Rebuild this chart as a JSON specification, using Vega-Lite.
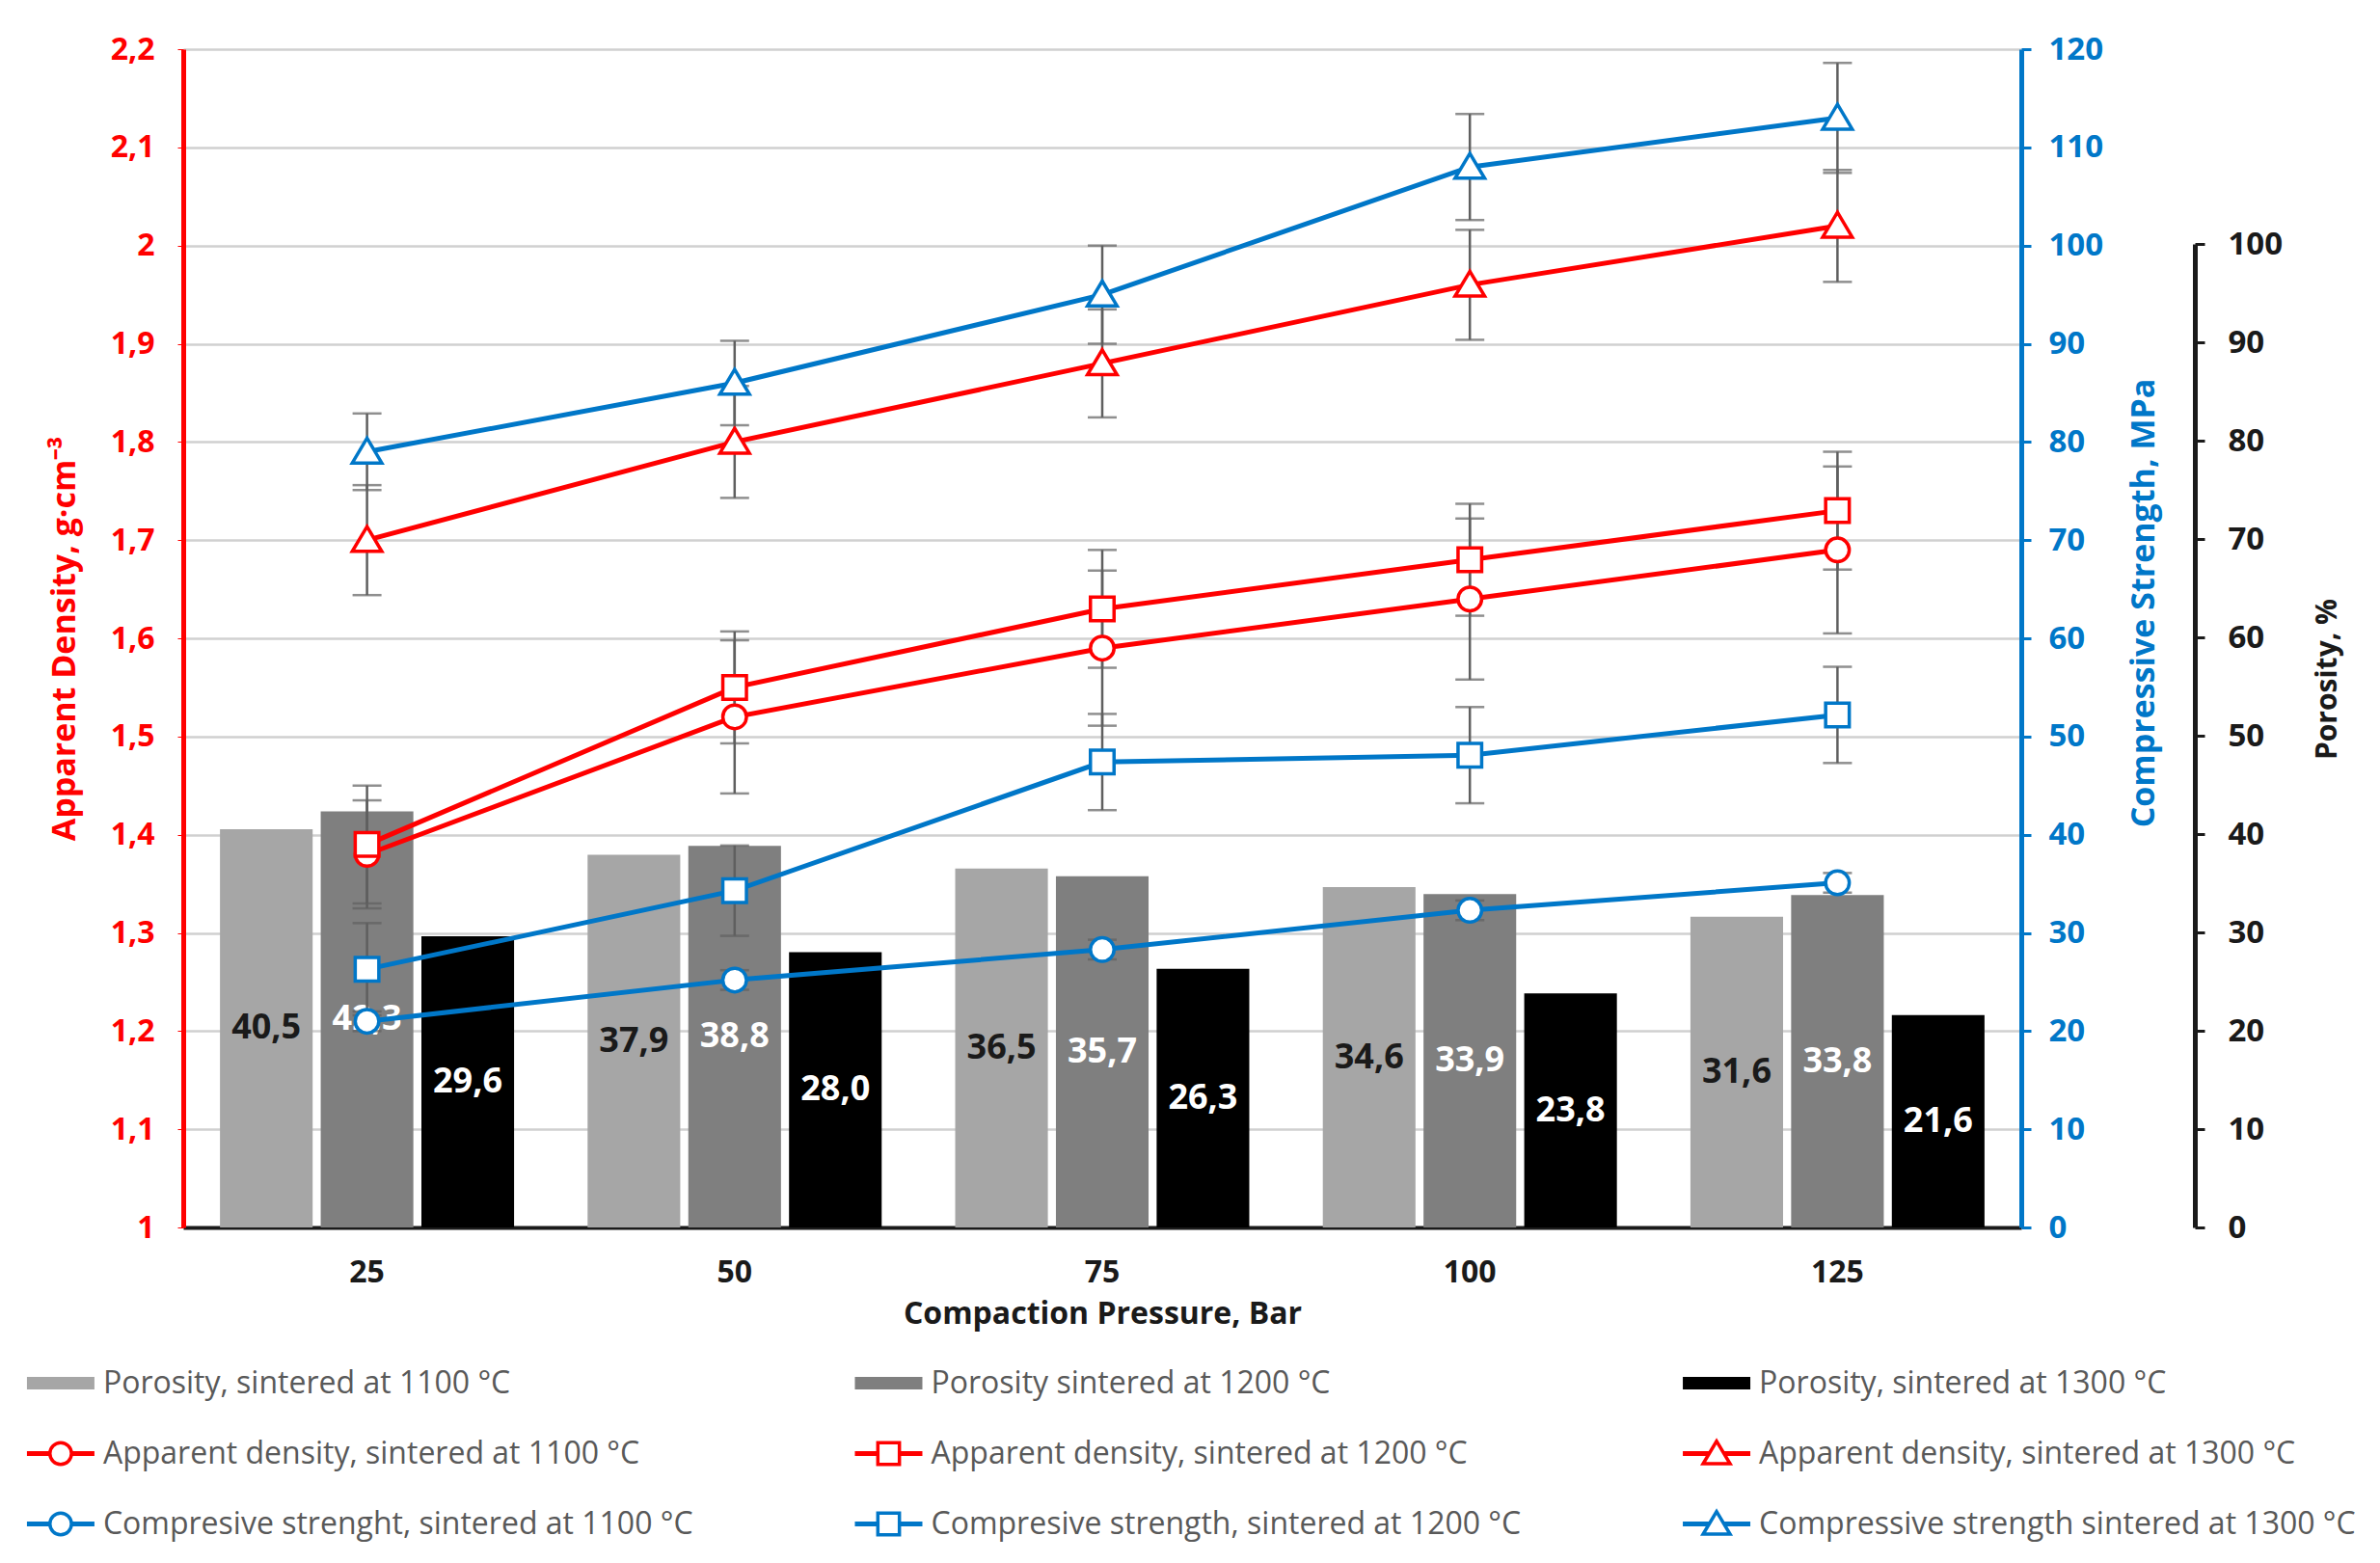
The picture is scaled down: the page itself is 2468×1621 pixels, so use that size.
{
  "$schema": "https://vega.github.io/schema/vega-lite/v6.json",
  "background": "white",
  "padding": {"left": 1, "top": 35, "right": 0, "bottom": 0},
  "spacing": 20,
  "config": {
    "view": {"stroke": null},
    "font": "Open Sans",
    "locale": {"number": {"decimal": ",", "thousands": " ", "grouping": [3], "currency": ["", ""]}}
  },
  "datasets": {
    "measurements": [
      {"pressure": 25, "temp": 1100, "porosity": 40.5, "density": 1.38, "densityErr": 0.055, "strength": 21.0, "strengthErr": 1.0},
      {"pressure": 25, "temp": 1200, "porosity": 42.3, "density": 1.39, "densityErr": 0.06, "strength": 26.3, "strengthErr": 4.7},
      {"pressure": 25, "temp": 1300, "porosity": 29.6, "density": 1.70, "densityErr": 0.056, "strength": 79.0, "strengthErr": 3.9},
      {"pressure": 50, "temp": 1100, "porosity": 37.9, "density": 1.52, "densityErr": 0.078, "strength": 25.2, "strengthErr": 1.0},
      {"pressure": 50, "temp": 1200, "porosity": 38.8, "density": 1.55, "densityErr": 0.057, "strength": 34.3, "strengthErr": 4.6},
      {"pressure": 50, "temp": 1300, "porosity": 28.0, "density": 1.80, "densityErr": 0.057, "strength": 86.0, "strengthErr": 4.3},
      {"pressure": 75, "temp": 1100, "porosity": 36.5, "density": 1.59, "densityErr": 0.079, "strength": 28.3, "strengthErr": 1.0},
      {"pressure": 75, "temp": 1200, "porosity": 35.7, "density": 1.63, "densityErr": 0.06, "strength": 47.4, "strengthErr": 4.9},
      {"pressure": 75, "temp": 1300, "porosity": 26.3, "density": 1.88, "densityErr": 0.055, "strength": 95.0, "strengthErr": 5.0},
      {"pressure": 100, "temp": 1100, "porosity": 34.6, "density": 1.64, "densityErr": 0.082, "strength": 32.3, "strengthErr": 1.0},
      {"pressure": 100, "temp": 1200, "porosity": 33.9, "density": 1.68, "densityErr": 0.057, "strength": 48.1, "strengthErr": 4.9},
      {"pressure": 100, "temp": 1300, "porosity": 23.8, "density": 1.96, "densityErr": 0.056, "strength": 108.0, "strengthErr": 5.4},
      {"pressure": 125, "temp": 1100, "porosity": 31.6, "density": 1.69, "densityErr": 0.085, "strength": 35.1, "strengthErr": 1.0},
      {"pressure": 125, "temp": 1200, "porosity": 33.8, "density": 1.73, "densityErr": 0.06, "strength": 52.2, "strengthErr": 4.9},
      {"pressure": 125, "temp": 1300, "porosity": 21.6, "density": 2.02, "densityErr": 0.057, "strength": 113.0, "strengthErr": 5.6}
    ],
    "legend": [
      {"measure": "Porosity", "temp": 1100, "label": "Porosity, sintered at 1100 °C"},
      {"measure": "Porosity", "temp": 1200, "label": "Porosity sintered at 1200 °C"},
      {"measure": "Porosity", "temp": 1300, "label": "Porosity, sintered at 1300 °C"},
      {"measure": "Apparent density", "temp": 1100, "label": "Apparent density, sintered at 1100 °C"},
      {"measure": "Apparent density", "temp": 1200, "label": "Apparent density, sintered at 1200 °C"},
      {"measure": "Apparent density", "temp": 1300, "label": "Apparent density, sintered at 1300 °C"},
      {"measure": "Compressive strength", "temp": 1100, "label": "Compresive strenght, sintered at 1100 °C"},
      {"measure": "Compressive strength", "temp": 1200, "label": "Compresive strength, sintered at 1200 °C"},
      {"measure": "Compressive strength", "temp": 1300, "label": "Compressive strength sintered at 1300 °C"}
    ]
  },
  "vconcat": [
    {
      "width": 1906,
      "height": 1222,
      "data": {"name": "measurements"},
      "encoding": {
        "x": {
          "field": "pressure",
          "type": "ordinal",
          "title": "Compaction Pressure, Bar",
          "scale": {"paddingInner": 0.2, "paddingOuter": 0.1},
          "axis": {
            "labelAngle": 0,
            "labelFontSize": 32,
            "labelFontWeight": "bold",
            "labelColor": "#1a1a1a",
            "labelPadding": 31,
            "ticks": false,
            "domainColor": "#1a1a1a",
            "domainWidth": 4,
            "titleFontSize": 32,
            "titleFontWeight": "bold",
            "titleColor": "#1a1a1a",
            "titlePadding": 12
          }
        }
      },
      "layer": [
        {
          "mark": {"type": "bar"},
          "encoding": {
            "xOffset": {"field": "temp", "type": "nominal", "scale": {"paddingInner": 0.08}},
            "y": {
              "field": "porosity",
              "type": "quantitative",
              "scale": {"domain": [0, 100], "range": [1222, 202], "nice": false},
              "axis": {
                "orient": "right",
                "offset": 180,
                "values": [0, 10, 20, 30, 40, 50, 60, 70, 80, 90, 100],
                "grid": false,
                "domainColor": "#1a1a1a",
                "domainWidth": 5,
                "tickColor": "#1a1a1a",
                "tickSize": 10,
                "tickWidth": 3,
                "labelColor": "#1a1a1a",
                "labelFontSize": 33,
                "labelFontWeight": "bold",
                "labelPadding": 24,
                "title": "Porosity, %",
                "titleColor": "#1a1a1a",
                "titleFontSize": 30,
                "titleFontWeight": "bold",
                "titleAngle": 270,
                "titleBaseline": "top",
                "titleY": 653,
                "titlePadding": 32
              }
            },
            "color": {
              "field": "temp",
              "type": "nominal",
              "scale": {"domain": [1100, 1200, 1300], "range": ["#a6a6a6", "#7f7f7f", "#000000"]},
              "legend": null
            }
          }
        },
        {
          "transform": [{"calculate": "datum.porosity / 2", "as": "labelPos"}],
          "mark": {"type": "text", "fontSize": 36, "fontWeight": "bold"},
          "encoding": {
            "xOffset": {"field": "temp", "type": "nominal", "scale": {"paddingInner": 0.08}},
            "y": {"field": "labelPos", "type": "quantitative", "scale": {"domain": [0, 100], "range": [1222, 202], "nice": false}, "axis": null},
            "text": {"field": "porosity", "type": "quantitative", "format": ".1f"},
            "color": {"condition": {"test": "datum.temp === 1100", "value": "#1a1a1a"}, "value": "white"}
          }
        },
        {
          "mark": {"type": "errorbar", "ticks": {"size": 30}, "thickness": 2.5, "color": "#5f5f5f"},
          "encoding": {
            "y": {"field": "density", "type": "quantitative", "scale": {"domain": [1, 2.2], "nice": false, "zero": false}, "axis": null},
            "yError": {"field": "densityErr"}
          }
        },
        {
          "mark": {"type": "line", "color": "#ff0000", "strokeWidth": 5},
          "encoding": {
            "y": {
              "field": "density",
              "type": "quantitative",
              "scale": {"domain": [1, 2.2], "nice": false, "zero": false},
              "axis": {
                "orient": "left",
                "values": [1, 1.1, 1.2, 1.3, 1.4, 1.5, 1.6, 1.7, 1.8, 1.9, 2, 2.1, 2.2],
                "format": "~g",
                "grid": true,
                "gridColor": "#d0d0d0",
                "gridWidth": 2.5,
                "domainColor": "#ff0000",
                "domainWidth": 5,
                "tickColor": "#ff0000",
                "tickSize": 6,
                "labelColor": "#ff0000",
                "labelFontSize": 32,
                "labelFontWeight": "bold",
                "labelPadding": 24,
                "title": "Apparent Density, g·cm⁻³",
                "titleColor": "#ff0000",
                "titleFontSize": 34,
                "titleFontWeight": "bold",
                "titlePadding": 30
              }
            },
            "detail": {"field": "temp", "type": "nominal"}
          }
        },
        {
          "mark": {"type": "point", "filled": true, "fill": "white", "stroke": "#ff0000", "strokeWidth": 3.5, "size": 600, "opacity": 1},
          "encoding": {
            "y": {"field": "density", "type": "quantitative", "scale": {"domain": [1, 2.2], "nice": false, "zero": false}, "axis": null},
            "shape": {
              "field": "temp",
              "type": "nominal",
              "scale": {"domain": [1100, 1200, 1300], "range": ["circle", "square", "M0,-1.15L1.25,0.95L-1.25,0.95Z"]},
              "legend": null
            }
          }
        },
        {
          "mark": {"type": "errorbar", "ticks": {"size": 30}, "thickness": 2.5, "color": "#5f5f5f"},
          "encoding": {
            "y": {"field": "strength", "type": "quantitative", "scale": {"domain": [0, 120], "nice": false}, "axis": null},
            "yError": {"field": "strengthErr"}
          }
        },
        {
          "mark": {"type": "line", "color": "#0077c8", "strokeWidth": 5},
          "encoding": {
            "y": {
              "field": "strength",
              "type": "quantitative",
              "scale": {"domain": [0, 120], "nice": false},
              "axis": {
                "orient": "right",
                "values": [0, 10, 20, 30, 40, 50, 60, 70, 80, 90, 100, 110, 120],
                "grid": false,
                "domainColor": "#0077c8",
                "domainWidth": 5,
                "tickColor": "#0077c8",
                "tickSize": 10,
                "tickWidth": 3,
                "labelColor": "#0077c8",
                "labelFontSize": 33,
                "labelFontWeight": "bold",
                "labelPadding": 18,
                "title": "Compressive Strength, MPa",
                "titleColor": "#0077c8",
                "titleFontSize": 34,
                "titleFontWeight": "bold",
                "titleAngle": 270,
                "titleBaseline": "top",
                "titleY": 574,
                "titlePadding": 26
              }
            },
            "detail": {"field": "temp", "type": "nominal"}
          }
        },
        {
          "mark": {"type": "point", "filled": true, "fill": "white", "stroke": "#0077c8", "strokeWidth": 3.5, "size": 600, "opacity": 1},
          "encoding": {
            "y": {"field": "strength", "type": "quantitative", "scale": {"domain": [0, 120], "nice": false}, "axis": null},
            "shape": {
              "field": "temp",
              "type": "nominal",
              "scale": {"domain": [1100, 1200, 1300], "range": ["circle", "square", "M0,-1.15L1.25,0.95L-1.25,0.95Z"]},
              "legend": null
            }
          }
        }
      ],
      "resolve": {"scale": {"y": "independent"}}
    },
    {
      "width": 1906,
      "height": 219,
      "data": {"name": "legend"},
      "encoding": {
        "x": {"field": "temp", "type": "quantitative", "scale": {"domain": [1114.8, 1336.8], "nice": false, "zero": false}, "axis": null},
        "y": {
          "field": "measure",
          "type": "nominal",
          "sort": ["Porosity", "Apparent density", "Compressive strength"],
          "scale": {"type": "point", "padding": 0.5},
          "axis": null
        }
      },
      "layer": [
        {
          "transform": [{"filter": "datum.measure === 'Porosity'"}],
          "mark": {"type": "point", "shape": "stroke", "size": 4900, "strokeWidth": 13, "opacity": 1},
          "encoding": {
            "color": {
              "field": "temp",
              "type": "nominal",
              "scale": {"domain": [1100, 1200, 1300], "range": ["#a6a6a6", "#7f7f7f", "#000000"]},
              "legend": null
            }
          }
        },
        {
          "transform": [{"filter": "datum.measure === 'Apparent density'"}],
          "mark": {"type": "point", "shape": "stroke", "size": 4900, "strokeWidth": 5, "color": "#ff0000", "opacity": 1}
        },
        {
          "transform": [{"filter": "datum.measure === 'Apparent density'"}],
          "mark": {"type": "point", "filled": true, "fill": "white", "stroke": "#ff0000", "strokeWidth": 3.5, "size": 500, "opacity": 1},
          "encoding": {
            "shape": {
              "field": "temp",
              "type": "nominal",
              "scale": {"domain": [1100, 1200, 1300], "range": ["circle", "square", "M0,-1.15L1.25,0.95L-1.25,0.95Z"]},
              "legend": null
            }
          }
        },
        {
          "transform": [{"filter": "datum.measure === 'Compressive strength'"}],
          "mark": {"type": "point", "shape": "stroke", "size": 4900, "strokeWidth": 5, "color": "#0077c8", "opacity": 1}
        },
        {
          "transform": [{"filter": "datum.measure === 'Compressive strength'"}],
          "mark": {"type": "point", "filled": true, "fill": "white", "stroke": "#0077c8", "strokeWidth": 3.5, "size": 500, "opacity": 1},
          "encoding": {
            "shape": {
              "field": "temp",
              "type": "nominal",
              "scale": {"domain": [1100, 1200, 1300], "range": ["circle", "square", "M0,-1.15L1.25,0.95L-1.25,0.95Z"]},
              "legend": null
            }
          }
        },
        {
          "mark": {"type": "text", "align": "left", "baseline": "middle", "dx": 44, "fontSize": 32, "color": "#595959"},
          "encoding": {"text": {"field": "label", "type": "nominal"}}
        }
      ]
    }
  ]
}
